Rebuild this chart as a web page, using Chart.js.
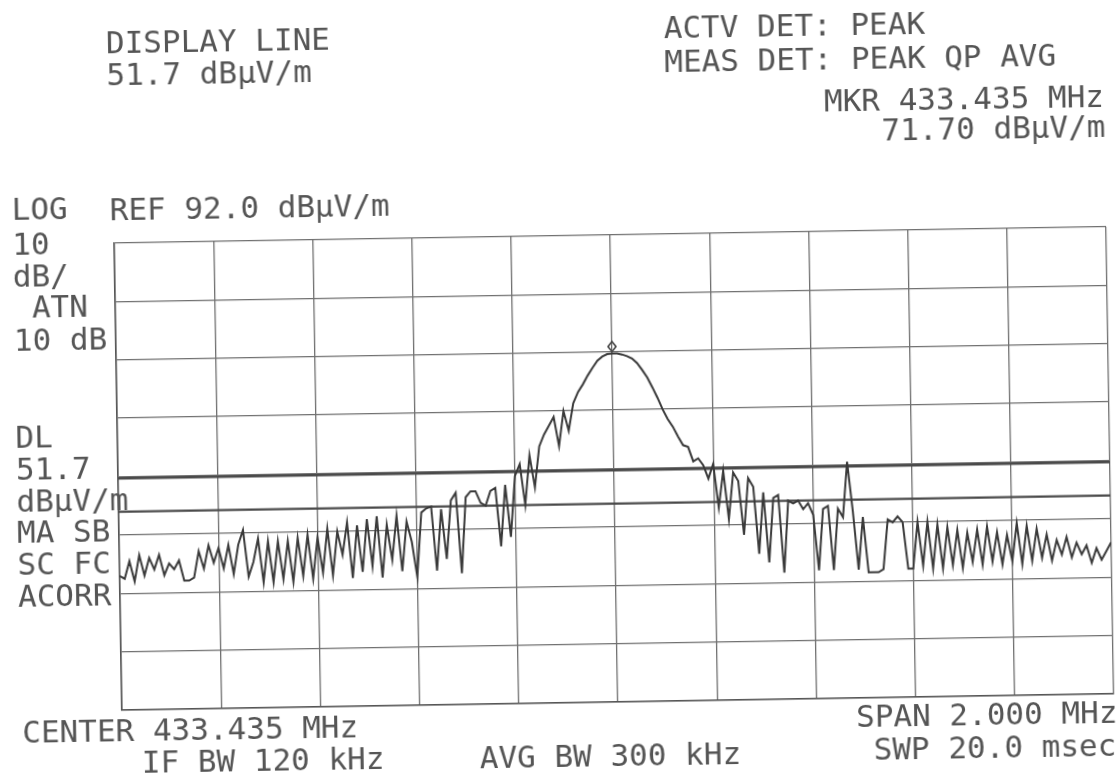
<!DOCTYPE html>
<html>
<head>
<meta charset="utf-8">
<script src="https://cdn.jsdelivr.net/npm/chart.js@4.4.1/dist/chart.umd.min.js"></script>
<style>
  html, body { margin: 0; padding: 0; background: #fff; overflow: hidden; }
  #sheet { position: absolute; left: 0; top: 0; width: 1117px; height: 782px;
           transform: rotate(-0.945deg); transform-origin: 614.5px 468.5px; }
  #sheet canvas { position: absolute; left: 0; top: 0; }
  .t { position: absolute; font: 31px "DejaVu Sans Mono", monospace; line-height: 31px;
       white-space: pre; color: #555; }
</style>
</head>
<body>
<div id="sheet">
  <canvas id="chart" width="1117" height="782"></canvas>
</div>
<script>
// sweep: centre 433.435 MHz, span 2.000 MHz, x is offset from centre in kHz
const spanKHz = 2000;
const divKHz = 200;
const refLevel = 92;
const dbPerDiv = 10;
const bottomLevel = 12;

const displayLine = 51.7;
const limitLine = 46;
const markerOffsetKHz = 0;
const markerLevel = 71.7;

// trace (dBuV/m), one value every 10 kHz
const noiseLeft = [35, 34.5, 37.5, 34, 38.5, 35, 38, 36, 38.5, 35, 37, 36, 37.5, 34, 34, 34.5, 39, 36, 40, 37, 39.5,
  36, 40, 35, 40, 42.5, 34.5, 37, 41, 33.5, 40.5, 33.5, 40.5, 34, 40.5, 33.5, 41, 34.5, 41.5, 34, 41,
  35, 42.5, 34.5, 42, 38, 43.5, 34, 43, 35, 44, 36, 44.5, 34, 43, 37, 44.5, 35, 43.5, 40];
const risingFlank = [34, 45, 45.7, 46, 35, 45.5, 37, 47, 48.3, 34.5, 47.5, 48.5, 48.5, 46.5, 46, 48.5, 49, 39,
  49.5, 40.6, 51, 53, 46, 54.5, 49, 56, 58, 59.5, 61, 56, 62, 58.6, 63.3, 65.2, 66.5, 68, 69.3, 70.5,
  71.2, 71.6, 71.7];
const fallingFlank = [71.7, 71.5, 71.2, 70.8, 70, 68.8, 67.5, 65.8, 64, 62, 60.3, 59, 57.3, 55.8, 55.5, 53,
  53.5, 52.3, 50, 52.5, 45, 51.3, 43, 51, 49.5, 40.3, 50];
const noiseRight = [48.5, 37, 47.5, 35.5, 46.5, 47, 33.7, 46, 45.5, 46, 44.5, 45.5, 43.5, 34, 44.5, 45, 34,
  44.5, 43, 52.5, 44, 34, 43, 33.5, 33.5, 33.5, 34, 42.5, 42, 43, 42, 34, 34, 42, 34.5, 42, 34, 41.5, 34,
  41, 34.5, 40.5, 34, 40, 35, 40.5, 34.5, 41, 35, 40, 34.5, 39.5, 35, 41.5, 34.5, 41, 35, 40.5, 35.5,
  39.5, 35, 38.5, 36, 39, 35.5, 38, 36, 37.5, 34.5, 37, 35, 36.5, 38];

const trace = noiseLeft.concat(risingFlank, fallingFlank, noiseRight);
const stepKHz = spanKHz / (trace.length - 1);
const tracePoints = trace.map((v, i) => ({ x: -spanKHz / 2 + i * stepKHz, y: v }));

// annotation texts of the plotter sheet
const labels = [
  ['DISPLAY LINE', 113, 45], ['51.7 dBµV/m', 113, 77],
  ['ACTV DET: PEAK', 671, 39], ['MEAS DET: PEAK QP AVG', 671, 73],
  ['MKR 433.435 MHz', -1110, 115], ['71.70 dBµV/m', -1111, 145],
  ['LOG', 16, 210], ['REF 92.0 dBµV/m', 114, 212],
  ['10', 16, 245], ['dB/', 16, 277], [' ATN', 16, 308], ['10 dB', 16, 341],
  ['DL', 16, 438], ['51.7', 16, 470], ['dBµV/m', 16, 502], ['MA SB', 16, 533],
  ['SC FC', 16, 565], ['ACORR', 16, 597],
  ['CENTER 433.435 MHz', 18, 733], ['IF BW 120 kHz', 137, 765], ['AVG BW 300 kHz', 475, 766],
  ['SPAN 2.000 MHz', 852, 731], ['SWP 20.0 msec', 869, 764]
];
const sheet = document.getElementById('sheet');
labels.forEach(([txt, x, base]) => {
  const d = document.createElement('div');
  d.className = 't';
  d.textContent = txt;
  d.style.top = (base - 26) + 'px';
  if (x < 0) d.style.right = (1117 + x) + 'px'; else d.style.left = x + 'px';
  sheet.appendChild(d);
});

// marker diamond drawn a little above its point
const mk = document.createElement('canvas');
mk.width = 14; mk.height = 30;
const mc = mk.getContext('2d');
mc.strokeStyle = '#444'; mc.lineWidth = 1.6;
mc.beginPath(); mc.moveTo(7, 3); mc.lineTo(11, 8); mc.lineTo(7, 13); mc.lineTo(3, 8); mc.closePath(); mc.stroke();

const gridOpts = { color: '#707070', lineWidth: 1.3, drawTicks: false };
const borderOpts = { display: true, color: '#555', width: 1.6 };

new Chart(document.getElementById('chart'), {
  type: 'line',
  data: {
    datasets: [
      { data: tracePoints, borderColor: '#3a3a3a', borderWidth: 2, pointRadius: 0, tension: 0 },
      { data: [{ x: -spanKHz / 2, y: displayLine }, { x: spanKHz / 2, y: displayLine }],
        borderColor: '#4a4a4a', borderWidth: 2.5, pointRadius: 0 },
      { data: [{ x: -spanKHz / 2, y: limitLine }, { x: spanKHz / 2, y: limitLine }],
        borderColor: '#4a4a4a', borderWidth: 2.2, pointRadius: 0 },
      { data: [{ x: markerOffsetKHz, y: markerLevel }], showLine: false, pointStyle: mk, pointRadius: 6 }
    ]
  },
  options: {
    responsive: false,
    animation: false,
    events: [],
    layout: { padding: { left: 118, right: 6, top: 235, bottom: 80 } },
    plugins: { legend: { display: false }, tooltip: { enabled: false } },
    scales: {
      x: { type: 'linear', min: -spanKHz / 2, max: spanKHz / 2,
           ticks: { display: false, stepSize: divKHz }, grid: gridOpts, border: borderOpts },
      y: { min: bottomLevel, max: refLevel,
           ticks: { display: false, stepSize: dbPerDiv }, grid: gridOpts, border: borderOpts }
    }
  }
});
</script>
</body>
</html>
